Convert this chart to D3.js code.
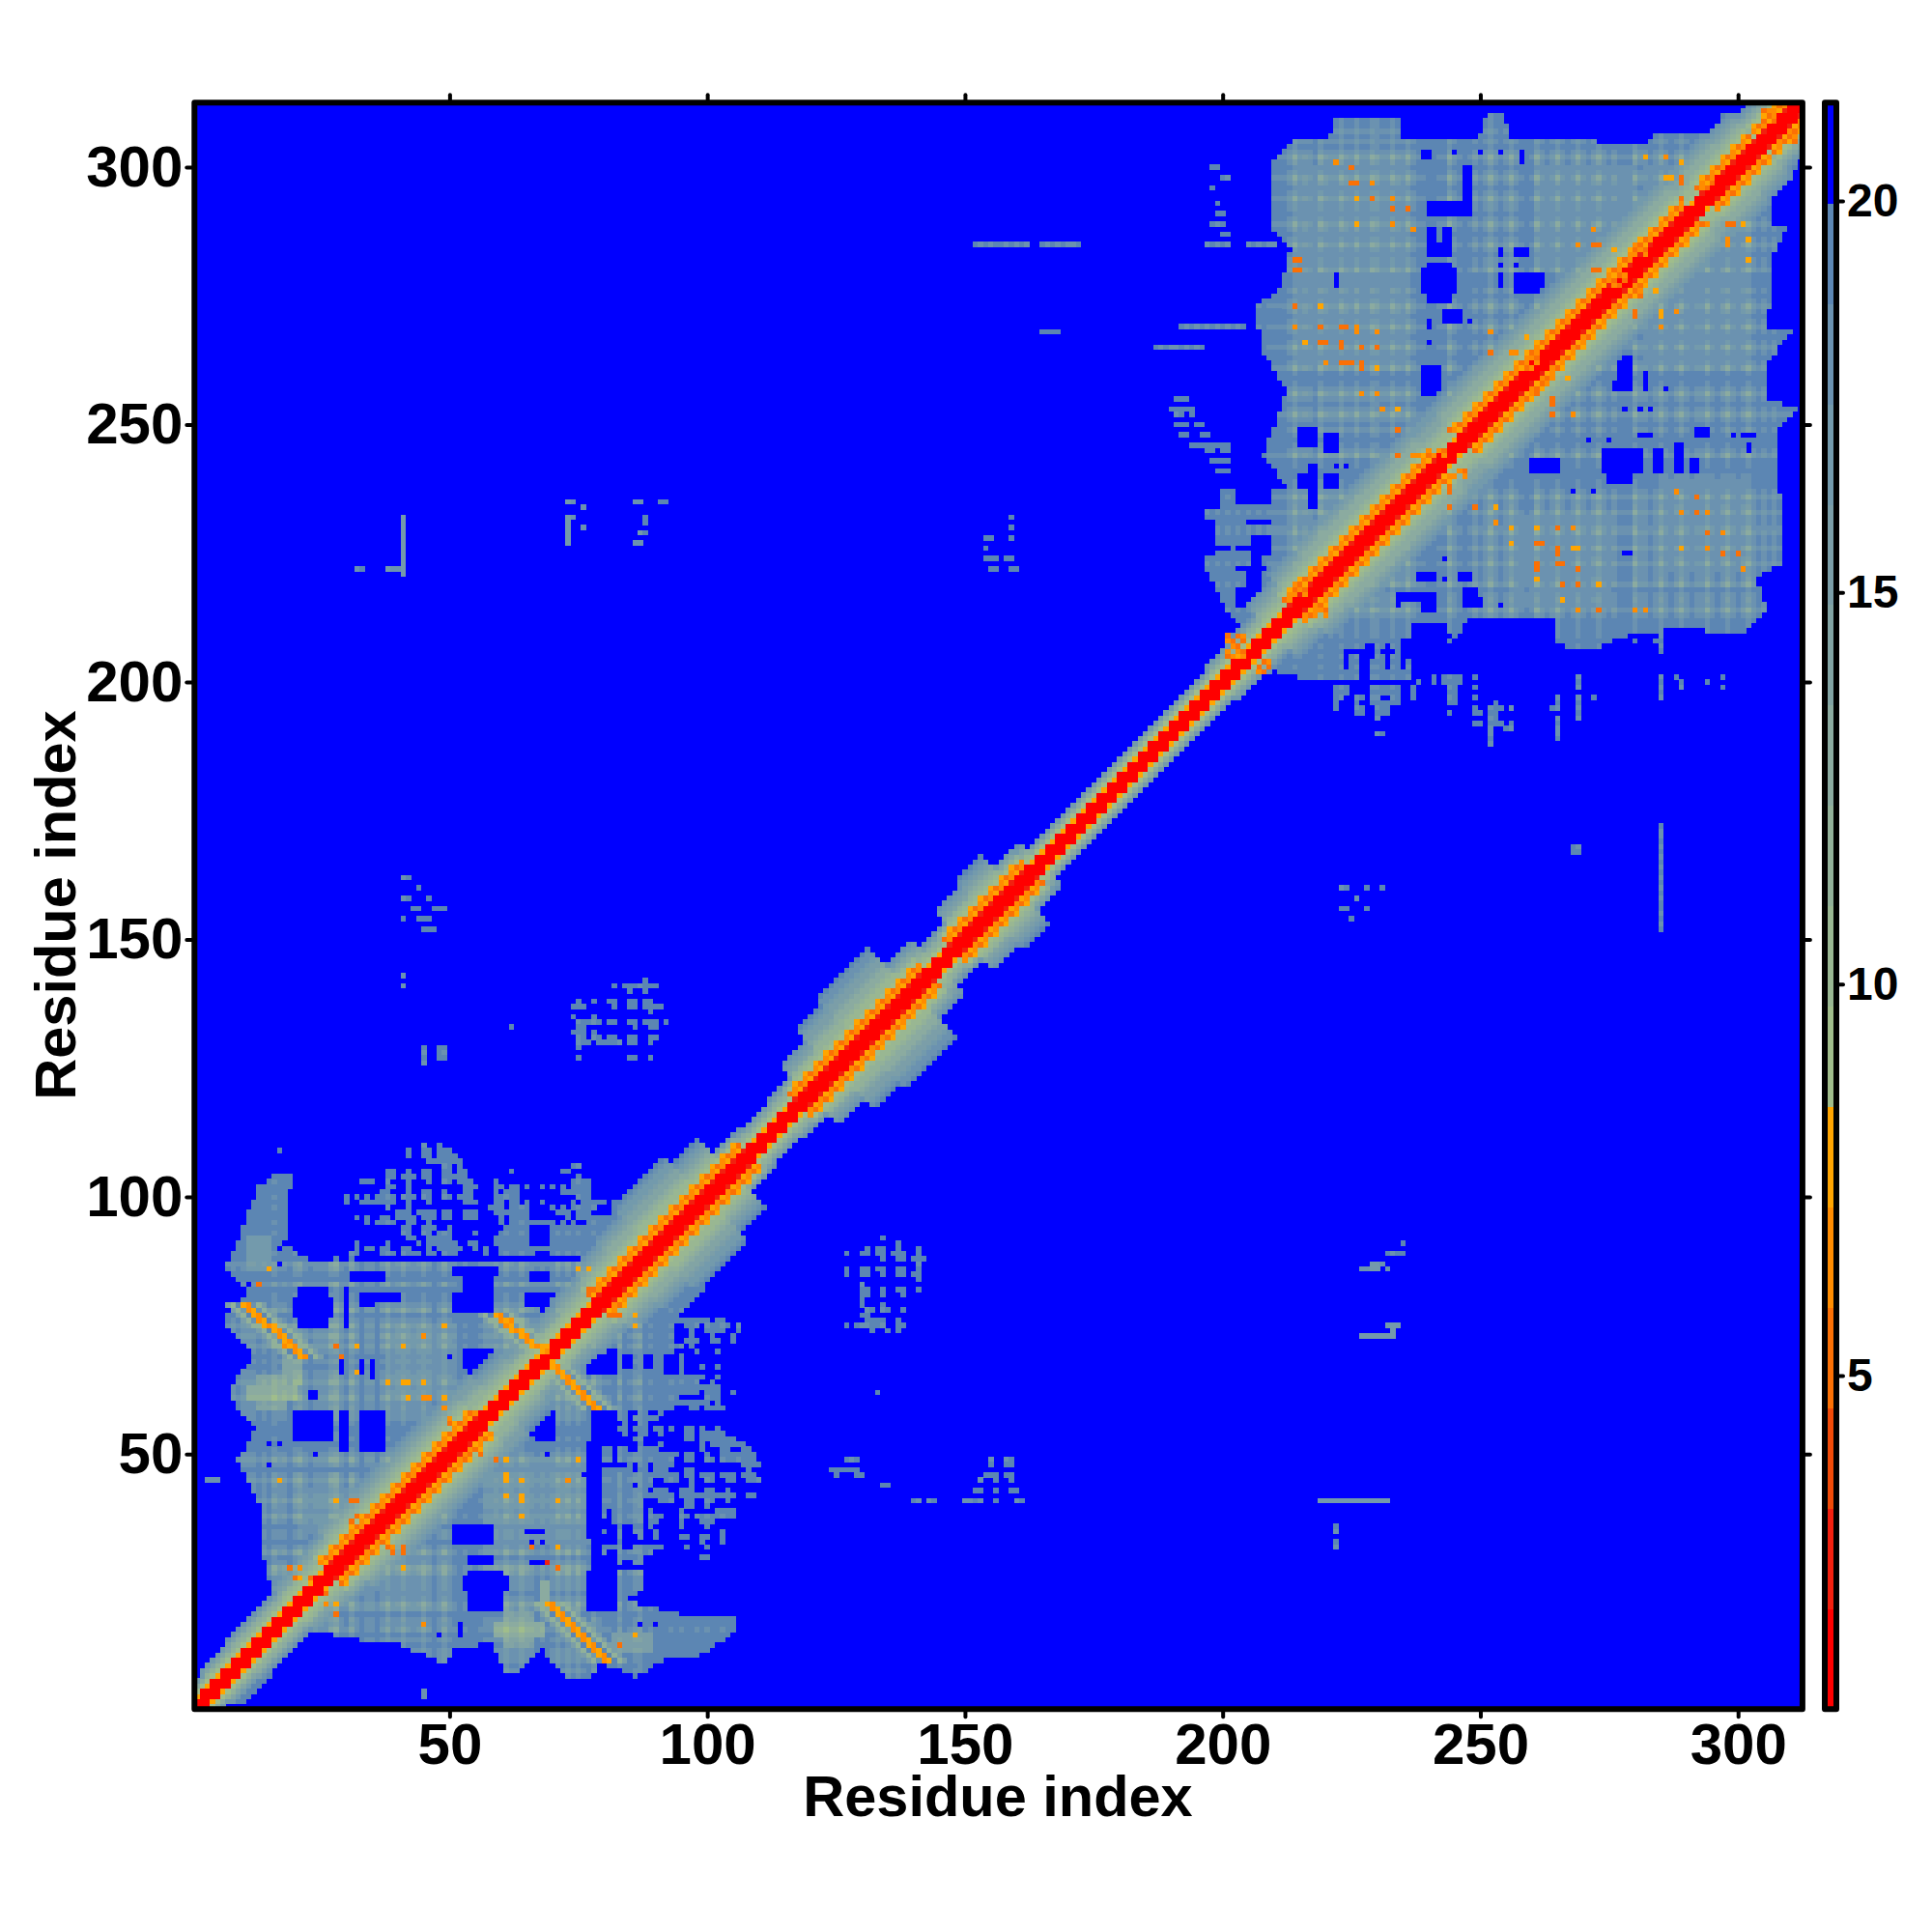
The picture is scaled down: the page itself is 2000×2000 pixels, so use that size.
<!DOCTYPE html>
<html><head><meta charset="utf-8"><style>html,body{margin:0;background:#fff}svg{display:block}text{font-family:"Liberation Sans",Arial,sans-serif;font-weight:700;fill:#000}</style>
<script src="https://cdnjs.cloudflare.com/ajax/libs/d3/7.8.5/d3.min.js"></script></head><body><svg id="c" width="2000" height="2000"></svg>
<script>
const residues=d3.range(1,313);
const axisTicks=[50,100,150,200,250,300];
const barTicks=[5,10,15,20];
const levelColors=["#ff0000","#f2200f","#f04a08","#fb7005","#ff8c00","#ffa500","#a0bd8b","#99b792","#92b199","#8baba0","#82a4a4","#7b9ea8","#739aac","#6b92b0","#5c86b3","#0000ff"];
// per-residue openness (tenths)
const residueGain=("3333333434"+"4434364536"+"7434447843"+"7414415745"+"7545751474"+"3132134454"+"7547543434"+"7574743743"+"3261356131"+"2130312313"+"2031230123"
+"3232323232"+"3030230303"+"3203032030"+"3032303203"+"3030320303"+"2323232323"+"3232323232"+"2323232323"+"3230323032"+"3032"
+"323233"+"3347454375"+"4475474476"+"4475474332"+"2337432353"+"4743474323"+"7434743474"+"3574353337"+"4434743574"+"3447435743"+"574343433333").split("").map(c=>+c/10);
// band reach from the diagonal, per 5 residues along it
const bandReach=[6,7,8,8,10,11,13,14,14,14,14,14,12,10,10,11,13,15,17,17,14,8,7,8,12,16,18,18,11,8,12,14,9,6,6,6,6,6,6,6,7,8,11,14,15,15,15,15,15,15,15,15,15,15,15,15,15,15,15,15,13,11,9];
const helices=[[27,35],[35,56],[79,108],[118,132],[131,143],[148,163],[214,228],[227,242],[247,262],[261,280],[280,291],[294,304],[305,311]];
const domainOne=[[9.3,1.2],[15.9,7.9],[21.4,14.9],[24.5,15.6],[31.5,14.1],[40,13.3],[49.4,9],[51,12.5],[58,13.3],[61,7.9],[63.4,7.5],[68,12.1],[72.7,6.7],[77.4,6.7],[79,9.8],[86,6.7],[92,10.2],[98.4,11],[103,13.7],[105.4,16.4],[105,18.7],[97.6,18.4],[90.6,19.9],[84.4,21.5],[87.5,24.2],[87.5,27.6],[77.5,28],[76,46],[78,59],[93.7,59],[93.7,76],[95,77],[100.7,84],[90,95],[83,99],[82,88],[59.5,88],[47.8,87.2],[33,87.6],[23.3,87.2],[17.9,91],[18.7,98],[19.4,105],[16.7,105],[12.8,102],[9.7,93.4],[6.6,86.4],[10.9,81],[6.6,77],[6.6,74.7],[12,69.3],[7.4,63],[7.4,60.7],[12.4,55.3],[9,49],[13.6,39],[13.6,31.2],[16,21.9],[7.4,14.9],[1.2,6.3],[1.2,1.2]];
const domainTwo=[[209.8,301],[213.7,305.3],[221,306],[221.9,309.2],[234.3,309],[235,305.3],[250,306],[251.4,310.7],[253.7,310.7],[256,306],[271.6,306],[272.8,304.5],[281.7,304.5],[284.8,306.8],[296.5,306.8],[296.5,310],[305.8,311.5],[312,311.5],[312,301],[309.7,296.7],[306.6,296],[306.6,289],[309.3,288],[306.6,282.7],[305.8,268.7],[310.5,268],[305.8,262.5],[305.8,254.7],[311.3,253],[307.4,248.5],[307.4,237.6],[309,233.7],[309,222.9],[303.5,220.5],[305.4,214.3],[301.2,209.6],[285.6,210.4],[284.8,205.7],[284,210],[279.4,209.6],[272.4,206.5],[268,206.5],[264.6,207.7],[264.6,212],[248.3,212.7],[244.4,207.7],[243.6,211],[236.6,211.2],[236.6,200.5],[216,200.5],[207,203],[205,210],[201.6,212.7],[197,222],[197,237.6],[212.5,237.6],[207.9,243.9],[209.8,249.3],[212.5,256.3],[207.4,264.9],[206.7,273],[211,276.5],[213.3,284.3],[209.8,288]];
// sparse cells read row by row: [row, x0,x1, x0,x1, ...]
const sparseRows=[
[110,45,45,48,48],[109,42,42,45,46,48,50],[108,42,42,45,46,48,51],[107,46,52],[106,49,50,52,52,74,75],[105,38,39,42,42,45,46,49,50,52,53,62,62,72,73],[104,38,39,41,43,45,46,49,53,75,75],[103,33,35,38,38,42,42,46,46,49,50,52,54,59,59,74,77],[102,38,39,42,42,53,55,59,60,62,63,65,65,68,68,70,70,72,72,74,77],[101,37,38,42,42,45,46,49,49,53,54,59,59,61,63,72,77],[100,30,30,32,32,34,34,36,39,41,43,45,46,49,50,52,54,59,63,75,77],[99,30,30,33,39,42,42,46,46,53,55,59,60,62,63,65,65,68,68,74,74,76,80,82,82],[98,38,38,42,42,58,60,62,65,70,70,72,72,74,78,82,82],[97,40,42,44,47,49,50,53,55,59,65,71,73,75,77,82,82],[96,32,32,34,34,37,38,40,43,45,47,49,50,53,55,60,60,62,65,73,73,75,82],[95,34,34,36,39,42,43,46,46,60,60,62,70,72,72,74,74,77,82],[94,41,42,45,47,50,50,61,65,70,82],[93,41,42,45,46,48,50,55,55,60,65,70,82],[92,42,43,46,50,59,65,70,82],[91,32,32,38,38,44,44,46,51,54,55,59,65,70,82],[90,32,32,34,35,37,38,41,42,46,46,48,52,55,55,57,57,60,82],[89,31,32,37,39,41,44,46,47,49,51,57,57,60,66,68,68,70,82],[88,28,28,31,31],
[76,94,100,102,103],[75,96,98,100,104,106,106],[74,97,97,100,103,106,106],[73,97,97,101,101,105,105],[72,96,98,101,102,105,105],[71,94,95,97,97],[70,98,98,102,102],[69,95,95],[68,95,95],[67,95,95,99,99,102,102],[66,95,95],[65,94,99,102,102],[64,94,98,101,101],[63,94,102],[62,94,98,100,102,105,105],[61,94,94,100,102],[60,94,100,102,102],[59,97,98,100,103],
[58,83,84,87,88,91,91],[57,83,84,86,90],[56,84,84,87,88],[55,83,84,86,88,90,91,93,93,96,97,99,99,102,102],[54,84,84,87,88,91,91,96,97,99,103],[53,86,87,96,97,99,105],[52,87,87,91,91,99,99,101,107],[51,80,81,83,84,87,90,99,99,103,104,107,108],[50,80,81,83,94,96,97,100,100,103,109],[49,80,81,83,93,96,97,100,101,103,109],[48,85,85,87,88,90,93,107,110],[47,80,85,87,88,90,92,96,97,108,108],[46,80,94,96,97,99,101,103,105,107,109],[45,80,89,92,94,97,97,100,101,104,105,108,110],[44,80,85,87,89,97,97],[43,80,88,90,92,95,97,100,101,104,104],[42,80,93,95,105,108,109],[41,80,87,91,93,96,97,100,101,104,104],[40,80,87,96,97,100,100],[39,80,80,82,87,89,89,95,95,102,105],[38,80,80,82,87,89,91,95,96,98,105],[37,82,87,89,90,95,95,99,101],[36,83,83,86,87,89,89,95,95,100,100],[35,80,80,83,83,86,87,90,90,103,103],[34,83,83,87,87,90,90,95,96,99,100,103,103],[33,83,83,99,99,103,103],[32,80,83,86,91,96,96,100,100],[31,80,80,83,89],[30,83,87,99,100],[29,83,83,86,87],
[142,88,88],[141,82,82,84,90],[140,85,85,88,88],[138,75,75,78,78,81,82,85,86,88,89],[137,74,76,82,82,85,86,88,91],[136,89,89],[135,74,74,78,78],[134,75,79,81,82,85,86,88,90,92,92],[133,75,76,86,86,89,90],[132,74,76,78,78],[131,75,76,78,79,81,82,85,86,89,90],[130,75,77,79,83,85,86,89,89],[129,75,75],[127,75,75,85,86,89,89],
[92,134,134],[91,137,137],[90,131,131,133,134,137,137,141,141],[89,127,127,130,131,133,134,136,138,141,141],[88,134,134,137,138,140,142],[87,141,141],[86,127,127,130,131,133,134,137,138,141,141],[85,127,127,130,131,134,134,137,138,140,141],[84,141,141],[83,130,130],[82,130,131,134,134,137,138,141,141],[81,130,131,134,134,138,138],[80,130,130],[79,130,130,134,134],[78,131,132,134,135,138,138],[77,130,131],[76,131,134,137,137],[75,127,127,129,134,137,138],[74,132,132,135,135,137,137],
[208,244,244,265,265,269,269,272,273,280,280,284,285],[207,269,269,273,273,285,285],[206,285,285],[201,241,241,243,246,249,249,269,269,285,285,288,288,297,297],[200,238,238,241,241,243,246,269,269,285,285,289,289,294,294],[199,222,224,229,234,237,237,244,245,249,249,269,269,285,285,289,289,297,297],[198,222,224,229,234,237,237,244,245,285,285],[197,222,223,226,227,229,230,233,234,237,237,244,245,249,249,265,265,269,269,272,272,285,285],[196,222,222,226,226,229,232,233,234,244,245,253,253,265,265,269,269],[195,222,222,226,227,230,232,249,249,252,254,256,256,264,265,269,269],[194,226,227,230,232,244,244,249,250,252,253,269,269],[193,230,230,252,253,265,265,269,269],[192,249,250,252,254,256,256,265,265],[191,252,252,255,256,265,265],[190,230,231,252,252,265,265],[189,252,252,265,265],[188,252,252],
[162,41,42],[160,44,44],[158,41,42,46,46],[156,43,44,47,49],[154,41,41,44,46],[152,45,47],[143,41,41],[141,41,41],[129,45,45,48,49],[128,45,45,48,49],[127,45,45,48,49],[126,45,45],
[235,73,74,86,87,91,92],[234,76,76],[232,41,41,73,74,88,88,159,159],[231,41,41,73,73,88,88],[230,41,41,73,73,76,76,159,159],[229,41,41,73,73,87,88],[228,41,41,73,73,154,155,159,159],[227,41,41,73,73,86,87],[226,41,41,154,154],[225,41,41],[224,41,41,154,156,158,159],[223,41,41],[222,32,33,38,41,155,156,159,160],[221,41,41],
[300,198,199],[298,200,201],[296,198,198],[293,199,199],[291,199,200],[289,198,200],[287,200,201],[285,152,162,165,172,197,201,205,210],[268,165,168],[269,192,204,207,211],[265,187,196,208,211],[273,207,211],
[255,191,193],[253,190,194],[252,191,192,194,194],[250,191,193,195,196],[248,192,193,196,197],[246,194,201],[245,197,198,200,201],[243,198,201],[241,199,201],
[49,127,129,155,155,158,159],[48,155,155,158,159],[47,124,129],[46,125,125,129,130,154,156,158,159],[45,3,5,153,153,156,156,159,159],[44,134,135],[43,152,153,156,156,159,160],[41,140,141,143,144,150,153,156,156,160,161,219,232],[36,222,222],[35,222,222],[33,222,222],[32,222,222],[62,133,133],[133,62,62],[4,45,45],[3,45,45],[109,17,17],
[91,235,235],[89,232,235],[87,229,231],[86,227,230,232,232],[75,232,234],[74,233,233],[73,227,233],
[172,285,285],[171,285,285],[170,285,285],[169,285,285],[168,268,269,285,285],[167,268,269,285,285],[166,285,285],[165,285,285],[164,285,285],[163,285,285],[162,285,285],[161,285,285],[160,223,224,228,228,231,231,285,285],[159,285,285],[158,226,226,285,285],[157,285,285],[156,223,224,228,228,285,285],[155,285,285],[154,225,225,285,285],[153,285,285],[152,285,285]];
const holes=[[21,26,75,82],[20,27,77,80],[30,30,75,82],[33,35,79,81],[36,40,80,81],[31,37,84,85],[51,58,78,81],[51,59,85,86],[53,58,82,84],[66,69,91,94],[68,68,88,89],[66,69,84,85],[65,71,79,81],[68,69,77,78],[53,58,66,70],[50,50,69,69],[29,29,66,68],[33,33,66,68],[35,35,65,68],[20,27,53,58],[23,24,61,62],[24,24,50,50],[29,30,51,58],[33,37,51,58],[43,43,56,56],[46,46,56,56],[66,70,53,58],[69,69,50,50],[77,82,66,70],[84,85,67,69],[88,89,67,69],[92,94,66,69],[51,58,33,36],[54,58,29,30],[54,60,20,27],[53,61,24,26],[65,68,35,35],[66,68,29,29],[66,66,33,33],[68,68,33,33],[77,82,20,27],[83,83,13,13],[87,87,17,17],[90,90,17,17],[48,48,15,15],[52,52,15,17],[15,15,52,52],[17,17,52,52],[15,15,48,48],[11,11,83,83],[17,17,90,90],[17,17,87,87],
[239,245,276,280],[240,244,274,281],[240,244,283,285],[240,241,286,288],[243,244,286,288],[240,248,291,293],[247,248,294,300],[239,240,302,303],[245,245,303,303],[250,250,303,303],[254,254,303,303],[258,258,301,303],[222,222,277,279],[240,240,269,270],[243,246,270,272],[248,248,270,270],[240,240,266,266],[239,242,256,261],[257,262,276,279],[254,254,277,279],[257,259,283,284],[254,254,283,284],[257,257,281,281],[254,254,281,281],[277,279,257,263],[276,279,257,258],[282,282,257,260],[286,286,257,257],[278,278,253,253],[281,281,253,253],[283,283,253,253],[271,271,247,247],[275,275,247,247],[274,281,241,245],[275,279,239,242],[284,285,241,245],[288,289,241,246],[291,292,241,243],[292,294,248,249],[281,283,248,248],[299,299,248,248],[301,303,248,248],[302,302,245,246],[260,265,241,243],[268,268,237,237],[272,272,237,237],[278,279,225,225],[238,241,220,221],[243,243,220,220],[246,248,220,221],[247,249,215,218],[234,241,216,217],[239,241,214,217],[234,234,215,215],[250,250,216,216],[250,250,215,215],[254,254,215,215],[243,243,224,224],[215,218,246,249],[220,222,245,248],[215,218,238,240],[217,218,234,242],[220,222,238,240],[224,224,242,242],[222,222,242,242],[197,199,234,237],[203,209,235,237],[197,198,225,231],[197,201,226,226],[203,209,226,226],[206,209,225,228],[205,209,231,231],[203,204,222,222],[206,207,223,224],[208,208,222,222],[203,208,215,218],[205,207,218,222],
[224,224,203,205],[227,228,201,206],[232,232,203,207],[224,226,206,206],[228,229,205,207],[231,233,206,206],[235,235,203,208],[236,236,205,208]];
// anti-parallel strand contacts x0,y0,x1,y1
const strandLines=[[9.7,78.6,21.4,68.9],[58.7,77,68,70],[70.4,67,78,58.8],[69.2,20.7,79.7,10.2]];
const contactBlocks=[[31,32,37,38],[38,39,31,32],[280,282,283,285],[276,278,277,279],[280,281,275,277],[259,261,261,263],[262,264,258,259],[214,216,217,219],[218,220,213,214],[240,243,244,245],[245,247,240,241],[294,295,296,298],[305,307,309,311],[309,311,305,306],[201,204,205,209],[207,209,202,204],[50,50,54,57],[53,56,50,50],[55,55,58,59]];
const contacts=[[15,86,8],[13,83,6],[28,71,6],[29,69,5],[32,71,8],[32,66,8],[41,71,8],[45,73,7],[49,75,8],[38,64,8],[41,64,8],[42,64,8],[45,64,8],[42,61,8],[45,61,7],[46,61,7],[49,61,8],[49,59,7],[75,86,8],[77,86,8],[77,82,6],[77,81,6],[82,77,6],[83,77,6],[86,77,8],[86,75,8],[17,45,8],[28,41,8],[31,41,6],[32,41,6],[59,49,6],[61,49,8],[61,46,8],[61,45,8],[64,45,8],[61,42,8],[64,41,8],[64,42,8],[64,38,8],[73,45,7],[71,41,8],[75,49,8],[41,31,6],[41,32,6],[41,28,8],[19,28,6],[21,28,7],[20,26,6],[21,26,8],[23,26,5],[26,23,6],[26,21,7],[28,21,8],[28,19,6],[45,17,7],[86,15,8],[83,13,6],[66,32,6],[71,32,8],[69,29,4],[71,28,6],
[222,301,7],[225,300,6],[225,297,6],[226,297,6],[229,297,7],[226,294,8],[229,294,6],[233,294,7],[233,292,5],[236,292,6],[226,289,8],[233,289,7],[237,288,7],[214,282,6],[215,282,6],[214,280,6],[215,280,6],[214,273,6],[219,273,8],[214,269,7],[219,269,6],[223,269,6],[224,269,6],[226,268,7],[226,269,7],[230,268,7],[216,266,8],[219,266,6],[220,266,6],[223,266,5],[223,265,5],[227,265,6],[230,265,6],[223,262,6],[224,262,6],[225,262,6],[220,262,7],[227,261,6],[227,262,6],[230,261,8],[227,256,7],[230,256,7],[231,253,7],[234,253,8],[234,249,6],[234,244,6],[237,244,7],[238,244,7],[244,249,6],[252,268,7],[259,267,8],[252,264,6],[256,264,7],[257,264,7],[282,302,8],[286,302,7],[289,301,8],[286,298,8],[287,298,8],[289,297,6],[289,298,6],[289,294,6],[294,289,7],[298,289,6],[299,289,6],[301,289,8],[298,286,7],[298,285,7],[302,286,8],[302,282,8],[272,288,7],[269,285,7],[272,285,6],[273,285,6],[276,284,8],[272,280,6],[273,280,6],[284,276,8],[280,272,6],[280,271,6],[285,272,8],[285,271,8],[288,272,7],[285,269,7],[267,259,8],[264,255,6],[264,254,6],[264,252,6],[268,252,7],[261,256,6],[244,238,6],[244,237,6],[244,234,6],[249,234,6],[253,234,8],[253,231,7],[256,230,8],[261,230,8],[265,230,6],[268,230,7],[256,227,8],[261,227,6],[262,227,6],[265,226,6],[265,225,6],[268,226,8],[269,226,8],[261,223,6],[261,222,6],[265,223,5],[266,223,5],[269,222,6],[261,220,8],[266,219,6],[269,219,6],[273,219,8],[266,216,8],[269,214,7],[273,214,6],[280,214,7],[282,214,7],[288,237,7],[292,236,6],[289,233,7],[292,233,6],[294,233,7],[294,229,6],[297,229,7],[289,226,8],[294,226,7],[297,225,6],[300,225,6],[301,222,7]];
// x0,x1,y0,y1,value
const lightPatches=[[13,18,59,65,13.5],[11,20,61,63,11.5],[18,21,64,68,13],[61,66,13,19,13.5],[59,68,15,17,11.5],[68,69,20,25,11.5],[82,89,12,15,14],[11,15,86,92,15.5],[38,51,61,75,16.5],[57,77,33,49,16.5],[21,33,35,43,16.5],[214,236,262,300,17],[256,275,215,232,17],[285,302,222,240,17],[262,280,280,300,17],[282,302,262,300,17],[30,50,20,31,17]];

const gain=r=>residueGain[r-1]||0;
const cellValue=new Map();const key=(x,y)=>(y-1)*312+(x-1);
const put=(x,y,v)=>{if(x>=1&&x<=312&&y>=1&&y<=312)cellValue.set(key(x,y),v)};
const get=(x,y)=>cellValue.has(key(x,y))?cellValue.get(key(x,y)):21;
const low=(x,y,v)=>{if(v<get(x,y))put(x,y,v)};
const plaid=(x,y)=>{const a=gain(x),b=gain(y);return Math.max(13,19.9-0.6*(a+b)-30*(a*b)*(a*b))};
sparseRows.forEach(([row,...runs])=>{for(let k=0;k<runs.length;k+=2)for(let x=runs[k];x<=runs[k+1];x++)put(x,row,Math.max(plaid(x,row),17))});
residues.forEach(y=>residues.forEach(x=>{const p=[x,y];
  if(d3.polygonContains(domainOne,p)||d3.polygonContains(domainTwo,p))put(x,y,plaid(x,y));
}));
lightPatches.forEach(([a,b,c,e,v])=>{for(let y=c;y<=e;y++)for(let x=a;x<=b;x++)if(cellValue.has(key(x,y)))low(x,y,v+(plaid(x,y)-17)*.7)});
holes.forEach(([a,b,c,e])=>{for(let y=c;y<=e;y++)for(let x=a;x<=b;x++)put(x,y,21)});
// diagonal band
residues.forEach(y=>residues.forEach(x=>{const d=Math.abs(x-y);if(d>25)return;
  const mid=(x+y)/2,w=bandReach[Math.min(bandReach.length-1,Math.floor(mid/5))];
  const odd=(x>y?y:y+1)%2===1;
  const hel=helices.some(h=>mid>=h[0]&&mid<=h[1]);let v;
  if(d<=1)v=1.5;
  else if(hel&&d<=5){
    if(d===2)v=odd?1.5:2.6;
    else if(d===3)v=odd?6.5:7.8;
    else if(d===4)v=odd?5.2:6.5;
    else v=odd?7.8:9;
  }else if(d===2)v=odd?1.5:7.8;
  else{const d0=hel?5:3;if(d>=w)return;v=9+11*(d-d0)/(w-d0);}
  low(x,y,v);if(d<=5&&v<9)put(x,y,v);
}));
strandLines.forEach(([x0,y0,x1,y1])=>{const n=Math.ceil(Math.max(Math.abs(x1-x0),Math.abs(y1-y0)));
  for(let t=0;t<=n;t++){const x=Math.round(x0+(x1-x0)*t/n),y=Math.round(y0+(y1-y0)*t/n);
    [-3,4].forEach(k=>low(x+k,y,15));[-2,3].forEach(k=>low(x+k,y,11));
    put(x,y,t%2?6.5:7.8);put(x+1,y,t%2?7.8:6.5);}
});
contactBlocks.forEach(([a,b,c,e])=>{for(let y=c;y<=e;y++)for(let x=a;x<=b;x++)if((x+y)%3)put(x,y,(x+y)%2?6.5:5.4)});
const contactLevel={4:3,5:5,6:5.6,7:6.5,8:7.8};
contacts.forEach(([x,y,l])=>put(x,y,contactLevel[l]));

// ---------- drawing
const cells=[];cellValue.forEach((v,k)=>{if(v<20)cells.push({x:k%312+1,y:Math.floor(k/312)+1,v})});
const svg=d3.select("#c");
const x=d3.scaleLinear([0.5,312.5],[201.3,1865.9]);
const y=d3.scaleLinear([0.5,312.5],[1769.2,106.3]);
const barY=d3.scaleLinear([5,20],[1424,208]);
const vMin=barY.invert(1769.2),vMax=barY.invert(106.3),step=(vMax-vMin)/16;
const edges=d3.range(1,16).map(k=>vMin+k*step);
const color=d3.scaleThreshold(edges,levelColors);
svg.append("rect").attr("x",x(.5)).attr("y",y(312.5)).attr("width",x(312.5)-x(.5)).attr("height",y(.5)-y(312.5)).attr("fill",color(21));
svg.append("g").attr("shape-rendering","crispEdges").selectAll("rect").data(cells).join("rect")
 .attr("x",d=>x(d.x-.5)).attr("y",d=>y(d.y+.5)).attr("width",x(2)-x(1)+.3).attr("height",y(1)-y(2)+.3).attr("fill",d=>color(d.v));
const tickStyle=g=>{g.select(".domain").remove();g.selectAll("line").attr("stroke","#000").attr("stroke-width",4).attr("stroke-linecap","round")};
const fs=60;
const ax=(a,t)=>svg.append("g").attr("transform",t).call(a).call(tickStyle);
ax(d3.axisBottom(x).tickValues(axisTicks).tickSize(8).tickPadding(6).tickFormat(d3.format("d")),`translate(0,${y(.5)})`).selectAll("text").attr("font-size",fs).attr("fill","#000");
ax(d3.axisLeft(y).tickValues(axisTicks).tickSize(8).tickPadding(4).tickFormat(d3.format("d")),`translate(${x(.5)},0)`).selectAll("text").attr("font-size",fs).attr("fill","#000");
ax(d3.axisTop(x).tickValues(axisTicks).tickSize(8).tickFormat(""),`translate(0,${y(312.5)})`);
ax(d3.axisRight(y).tickValues(axisTicks).tickSize(8).tickFormat(""),`translate(${x(312.5)},0)`);
svg.append("rect").attr("x",x(.5)).attr("y",y(312.5)).attr("width",x(312.5)-x(.5)).attr("height",y(.5)-y(312.5)).attr("fill","none").attr("stroke","#000").attr("stroke-width",6).attr("stroke-linejoin","round");
// colour bar
const bands=levelColors.map((c,i)=>({c,lo:vMin+i*step,hi:vMin+(i+1)*step}));
const bx=1892,bw=6;
svg.append("g").attr("shape-rendering","crispEdges").selectAll("rect").data(bands).join("rect").attr("x",bx).attr("width",bw).attr("y",d=>barY(d.hi)).attr("height",d=>barY(d.lo)-barY(d.hi)+.5).attr("fill",d=>d.c);
svg.append("rect").attr("x",bx-3).attr("y",barY(vMax)).attr("width",bw+6).attr("height",barY(vMin)-barY(vMax)).attr("fill","none").attr("stroke","#000").attr("stroke-width",6).attr("stroke-linejoin","round");
const barAxis=d3.axisRight(barY).tickValues(barTicks).tickSize(7).tickPadding(4).tickFormat(d3.format("d"));
ax(barAxis,`translate(${bx+bw+3},0)`).selectAll("text").attr("font-size",48).attr("fill","#000");
svg.append("text").attr("x",1033).attr("y",1880).attr("text-anchor","middle").attr("font-size",59.5).text("Residue index");
svg.append("text").attr("transform","translate(78,937) rotate(-90)").attr("text-anchor","middle").attr("font-size",59.5).text("Residue index");
</script></body></html>
